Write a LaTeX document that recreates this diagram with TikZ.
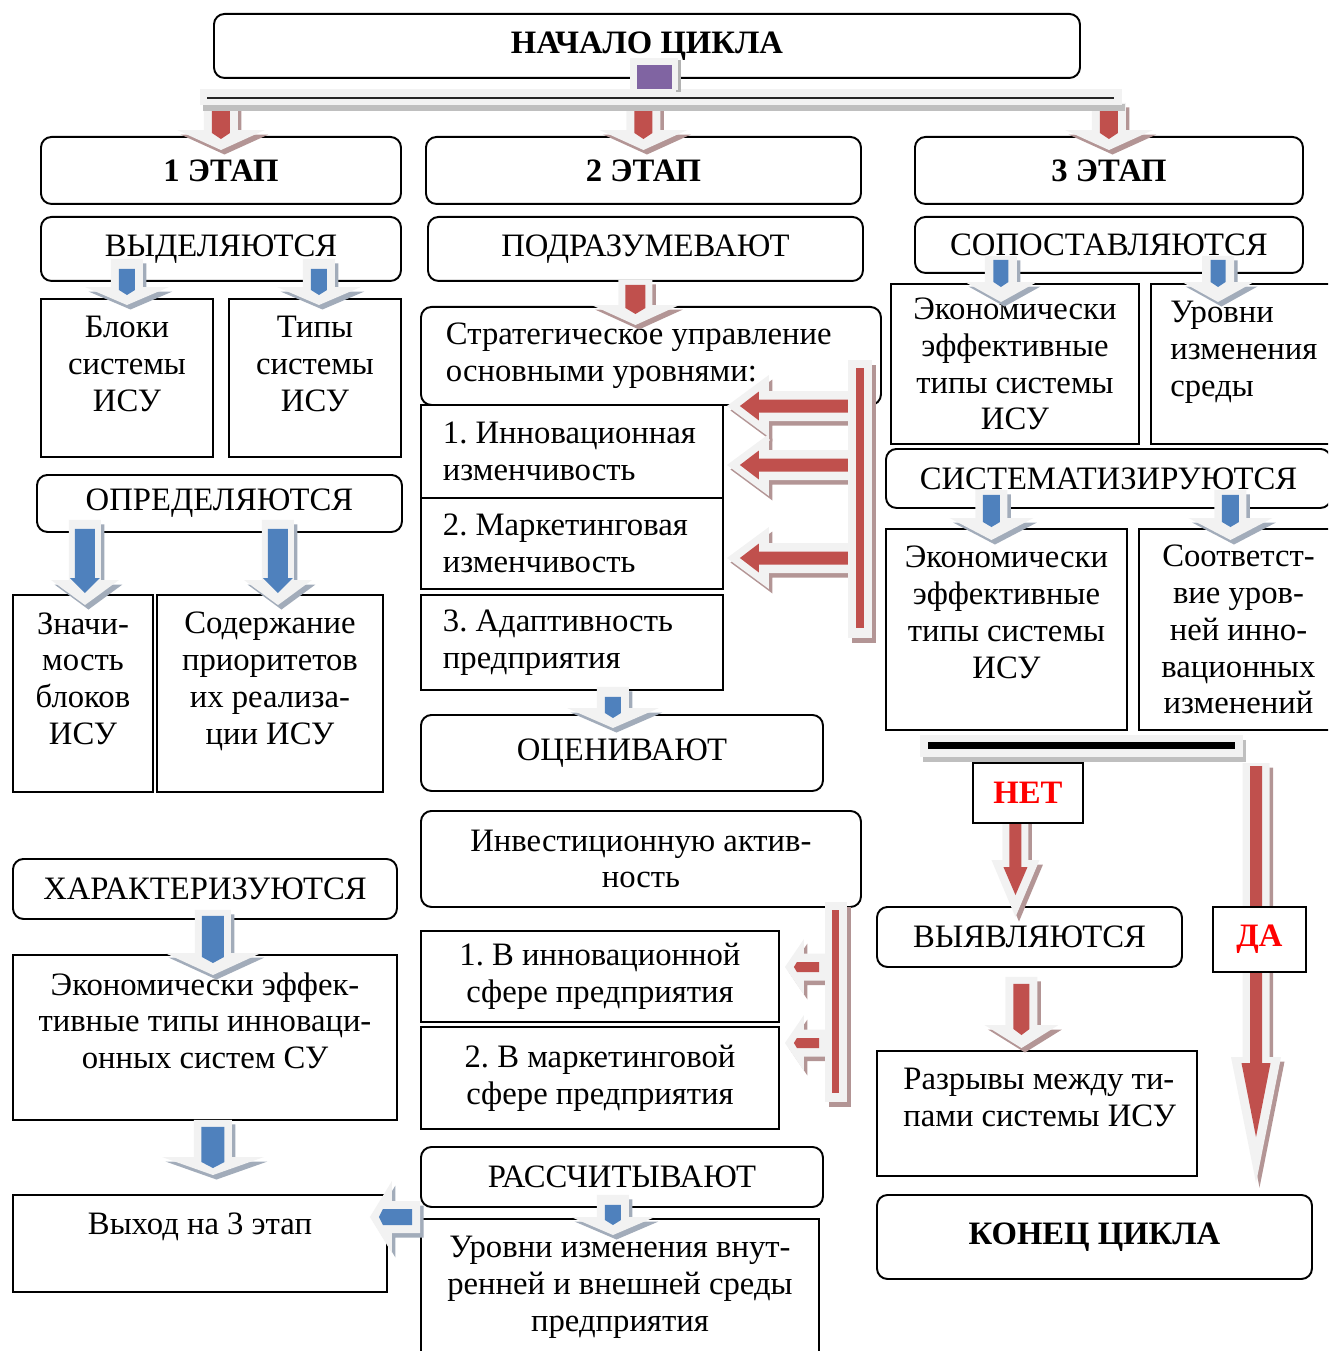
\documentclass[tikz,border=0pt]{standalone}
\usepackage{fontspec}
\setmainfont{Liberation Serif}
\usetikzlibrary{calc,positioning}
\definecolor{arrred}{HTML}{C0504D}
\definecolor{arrblue}{HTML}{4F81BD}
\definecolor{arrbg}{HTML}{F2F2F2}
\definecolor{redsh}{HTML}{B39595}
\definecolor{bluesh}{HTML}{A2ACBA}
\definecolor{purp}{HTML}{8064A2}
\frenchspacing
\tikzset{
	sz/.style 2 args={minimum width=#1*0.02cm,minimum height=#2*0.02cm},
	box/.style={draw,line width=1.1pt,inner sep=0pt,align=center,anchor=north west,fill=white},
	rbox/.style={box,rounded corners=6pt},
	lbox/.style={box,align=flush left,text width=#1*0.02cm},
	toplbl/.style={anchor=north,yshift=-18*0.02cm,align=center,inner sep=0pt}
}
\pgfkeys{/blk/.is family,/blk,
	sw/.initial=16,hw/.initial=42,hl/.initial=18,
	iw/.initial=8,ihw/.initial=8,ihl/.initial=5,
	it/.initial=10,gap/.initial=10,
	col/.initial=arrblue,sh/.initial=bluesh,
	red/.style={col=arrred,sh=redsh}}
\newcommand\blkouter[1]{\fill[fill=#1] (0,-\bsw) -- ({\blklen-\bhl},-\bsw) -- ({\blklen-\bhl},-\bhw) -- (\blklen,0)
	-- ({\blklen-\bhl},\bhw) -- ({\blklen-\bhl},\bsw) -- (0,\bsw) -- cycle;}
\newcommand\blkarrow[3][]{%
	\begingroup
	\pgfkeys{/blk,#1}%
	\edef\bsw{\pgfkeysvalueof{/blk/sw}}\edef\bhw{\pgfkeysvalueof{/blk/hw}}\edef\bhl{\pgfkeysvalueof{/blk/hl}}%
	\edef\biw{\pgfkeysvalueof{/blk/iw}}\edef\bihw{\pgfkeysvalueof{/blk/ihw}}\edef\bihl{\pgfkeysvalueof{/blk/ihl}}%
	\edef\bit{\pgfkeysvalueof{/blk/it}}\edef\bgap{\pgfkeysvalueof{/blk/gap}}%
	\edef\bcol{\pgfkeysvalueof{/blk/col}}\edef\bsh{\pgfkeysvalueof{/blk/sh}}%
	\path let \p1=#2, \p2=#3 in \pgfextra{%
		\pgfmathsetmacro\tmpl{veclen(\x2-\x1,\y2-\y1)/0.5690551}\xdef\blklen{\tmpl}%
		\pgfmathsetmacro\tmpa{atan2(\y2-\y1,\x2-\x1)}\xdef\blkang{\tmpa}};
	\begin{scope}[shift={#2},xshift=0.07cm,yshift=-0.09cm,rotate=\blkang]
		\blkouter{\bsh}
	\end{scope}
	\begin{scope}[shift={#2},rotate=\blkang]
		\blkouter{arrbg}
		\fill[fill=\bcol] (\bit,-\biw) -- ({\blklen-\bgap-\bihl},-\biw) -- ({\blklen-\bgap-\bihl},-\bihw)
			-- ({\blklen-\bgap},0) -- ({\blklen-\bgap-\bihl},\bihw) -- ({\blklen-\bgap-\bihl},\biw) -- (\bit,\biw) -- cycle;
	\end{scope}
	\endgroup}
\begin{document}
\begin{tikzpicture}[x=0.02cm,y=-0.02cm,font=\fontsize{18.6}{21}\selectfont]
\useasboundingbox (0,0) rectangle (1328,1351);
\clip (0,0) rectangle (1328,1351);

\node[rbox,sz={866}{64}] (start) at (213,13) {\textbf{НАЧАЛО ЦИКЛА}};
\node[rbox,sz={360}{67}] (et1) at (40,136) {\textbf{1 ЭТАП}};
\node[rbox,sz={435}{67}] (et2) at (425,136) {\textbf{2 ЭТАП}};
\node[rbox,sz={388}{67}] (et3) at (914,136) {\textbf{3 ЭТАП}};

% 1 stage
\node[rbox,sz={360}{64}] (vyd) at (40,216) {ВЫДЕЛЯЮТСЯ};
\node[box,sz={172}{158},label={[toplbl]north:Блоки\\системы\\ИСУ}] (blok) at (40,298) {};
\node[box,sz={172}{158},label={[toplbl]north:Типы\\системы\\ИСУ}] (tipy) at (228,298) {};
\node[rbox,sz={365}{57}] (opr) at (36,474) {ОПРЕДЕЛЯЮТСЯ};
\node[box,sz={140}{197},label={[toplbl]north:Значи-\\мость\\блоков\\ИСУ}] (znach) at (12,594) {};
\node[box,sz={226}{197},label={[toplbl]north:Содержание\\приоритетов\\их реализа-\\ции ИСУ}] (soder) at (156,594) {};
\node[rbox,sz={384}{60}] (har) at (12,858) {ХАРАКТЕРИЗУЮТСЯ};
\node[box,sz={384}{165},label={[toplbl]north:Экономически эффек-\\тивные типы инноваци-\\онных систем СУ}] (ekinn) at (12,954) {};
\node[box,sz={374}{97},label={[toplbl]north:Выход на 3 этап}] (vyhod) at (12,1194) {};

% 2 stage
\node[rbox,sz={435}{64}] (podr) at (427,216) {ПОДРАЗУМЕВАЮТ};
\node[lbox=410,rounded corners=6pt,sz={460}{98}] (strat) at (420,306) {Стратегическое управление\\основными уровнями:};
\node[lbox=258,sz={302}{93}] (inn1) at (420,404) {1. Инновационная\\изменчивость};
\node[lbox=258,sz={302}{91}] (inn2) at (420,497) {2. Маркетинговая\\изменчивость};
\node[lbox=258,sz={302}{95}] (inn3) at (420,594) {3. Адаптивность\\предприятия};
\node[rbox,sz={402}{76}] (ocen) at (420,714) {ОЦЕНИВАЮТ};
\node[rbox,sz={440}{96}] (invest) at (420,810) {Инвестиционную актив-\\ность};
\node[box,sz={358}{91}] (vin1) at (420,930) {1. В инновационной\\сфере предприятия};
\node[box,sz={358}{102}] (vin2) at (420,1026) {2. В маркетинговой\\сфере предприятия};
\node[rbox,sz={402}{60}] (rassch) at (420,1146) {РАССЧИТЫВАЮТ};
\node[box,sz={398}{160},label={[toplbl]north:Уровни изменения внут-\\ренней и внешней среды\\предприятия}] (urvn) at (420,1218) {};

% 3 stage
\node[rbox,sz={388}{56}] (sopost) at (914,216) {СОПОСТАВЛЯЮТСЯ};
\node[box,sz={248}{160}] (ek1) at (890,283) {Экономически\\эффективные\\типы системы\\ИСУ};
\node[box,sz={190}{160},label={[toplbl,anchor=north west,align=left,xshift=20*0.02cm]north west:Уровни\\изменения\\среды}] (urs) at (1150,283) {};
\node[rbox,sz={445}{59}] (sist) at (885,448) {СИСТЕМАТИЗИРУЮТСЯ};
\node[box,sz={241}{201},label={[toplbl]north:Экономически\\эффективные\\типы системы\\ИСУ}] (ek2) at (885,528) {};
\node[box,sz={199}{201}] (sootv) at (1138,528) {Соответст-\\вие уров-\\ней инно-\\вационных\\изменений};
\node[rbox,sz={305}{60}] (vyyav) at (876,906) {ВЫЯВЛЯЮТСЯ};
\node[box,sz={320}{125},label={[toplbl,anchor=north west,align=left,xshift=27*0.02cm]north west:Разрывы между ти-\\пами системы ИСУ}] (razr) at (876,1050) {};
\node[rbox,sz={435}{84}] (konec) at (876,1194) {\textbf{КОНЕЦ ЦИКЛА}};

\coordinate (bar) at (661,97);
\coordinate (sbar) at (848,360);
\coordinate (ibar) at (825,902);
\coordinate (nbar) at (1081,746);

% arrows
\foreach \e in {et1,et2,et3}
	{\blkarrow[red,sw=17,hw=44,hl=20,iw=9,ihw=9,ihl=6,it=4,gap=11]{($(\e.north |- bar)+(0,6)$)}{($(\e.north)+(0,14)$)}}
\blkarrow{($(blok.north |- vyd.south)+(0,-23)$)}{($(blok.north)+(0,7)$)}
\blkarrow{($(tipy.north |- vyd.south)+(4,-23)$)}{($(tipy.north)+(4,7)$)}
\blkarrow[sw=16,hw=34,hl=25,iw=10,ihw=15,ihl=15,it=9,gap=12]{($(znach.north |- opr.south)+(2,-13)$)}{($(znach.north)+(2,11)$)}
\blkarrow[sw=16,hw=34,hl=25,iw=10,ihw=15,ihl=15,it=9,gap=12]{($(soder.north |- opr.south)+(8,-13)$)}{($(soder.north)+(8,11)$)}
\blkarrow[sw=18,hw=48,hl=22,iw=11,ihw=11,ihl=6,it=6,gap=12]{($(ekinn.north |- har.south)+(8,-10)$)}{($(ekinn.north)+(8,21)$)}
\blkarrow[sw=19,hw=51,hl=18,iw=11.5,ihw=11.5,ihl=6,it=7,gap=7]{($(ekinn.south)+(8,-1)$)}{($(vyhod.north -| ekinn.south)+(8,-19)$)}
\blkarrow[sw=16,hw=36,hl=22,iw=8,ihw=8,ihl=4,it=8,gap=9]{($(urvn.north west)+(0,-1)$)}{($(vyhod.east |- urvn.north)+(-18,-1)$)}
\blkarrow[red,sw=17,hw=44,hl=20,iw=10,ihw=10,ihl=6,it=5,gap=11]{($(podr.south)+(-10,-2)$)}{($(strat.north -| podr.south)+(-10,19)$)}
\blkarrow[hw=46,hl=20]{($(ocen.north |- inn3.south)+(-9,-4)$)}{($(ocen.north)+(-9,14)$)}
\blkarrow{($(rassch.south)+(-9,-13)$)}{($(urvn.north -| rassch.south)+(-9,17)$)}
\blkarrow[red,sw=15,hw=31,hl=42,iw=6.5,ihw=14.5,ihl=19,it=0,gap=13]{($(inn1.north -| sbar)+(0,2)$)}{($(inn1.north east)+(3,2)$)}
\blkarrow[red,sw=15,hw=31,hl=42,iw=6.5,ihw=14.5,ihl=19,it=0,gap=13]{($(inn1.north -| sbar)+(0,61)$)}{($(inn1.north east)+(3,61)$)}
\blkarrow[red,sw=15,hw=31,hl=42,iw=6.5,ihw=14.5,ihl=19,it=0,gap=13]{($(inn2.north -| sbar)+(0,61)$)}{($(inn2.north east)+(3,61)$)}
\blkarrow[red,sw=13.5,hw=28,hl=19,iw=5,ihw=5,ihl=3,it=6,gap=9]{($(vin1.north -| ibar)+(0,37)$)}{($(vin1.north east)+(5,37)$)}
\blkarrow[red,sw=13.5,hw=28,hl=19,iw=5,ihw=5,ihl=3,it=6,gap=9]{($(vin2.north -| ibar)+(0,17)$)}{($(vin2.north east)+(5,17)$)}
\blkarrow[hw=36,hl=20,iw=7.5,ihw=7.5,it=4,gap=15]{($(ek1.north |- sopost.south)+(-14,-18)$)}{($(ek1.north)+(-14,19)$)}
\blkarrow[hw=36,hl=20,iw=7.5,ihw=7.5,it=4,gap=15]{($(urs.north west |- sopost.south)+(68,-18)$)}{($(urs.north west)+(68,19)$)}
\blkarrow[hw=42,hl=22,iw=8.5,ihw=8.5,it=5,gap=13]{($(ek2.north |- sist.south)+(-15,-19)$)}{($(ek2.north)+(-15,12)$)}
\blkarrow[hw=42,hl=22,iw=8.5,ihw=8.5,it=5,gap=13]{($(sootv.north |- sist.south)+(-8,-19)$)}{($(sootv.north)+(-8,12)$)}
\blkarrow[red,sw=13,hw=24,hl=57,iw=6,ihw=12,ihl=28,it=5,gap=22]{($(vyyav.north |- nbar)+(-14,12)$)}{($(vyyav.north)+(-14,11)$)}
\blkarrow[red,sw=16,hw=37,hl=23,iw=8,ihw=8,ihl=6,it=7,gap=13]{($(vyyav.south)+(-8,9)$)}{($(razr.north -| vyyav.south)+(-8,-2)$)}
\blkarrow[red,sw=13.5,hw=25,hl=126,iw=6,ihw=14.5,ihl=74,it=3,gap=46]{($(konec.north -| 1258,0)+(-2,-431)$)}{($(konec.north -| 1258,0)+(-2,-11)$)}

% bars
\fill[black!25] (203,104) rectangle (1125,111);
\fill[arrbg] (200,89) rectangle (1122,105);
\draw[line width=0.9pt,black!85] (207,98) -- (1114,98);
\fill[black!30] (676,60) rectangle (681,92);
\fill[arrbg] (630,58) rectangle (678,90);
\fill[purp] (637,65) rectangle (672,89);
\fill[redsh] ($(sbar)+(4,5)$) rectangle ++(24,278);
\fill[arrbg] (sbar) rectangle ++(24,278);
\fill[arrred] ($(sbar)+(8,8)$) rectangle ++(8,260);
\fill[redsh] ($(ibar)+(4,5)$) rectangle ++(22,200);
\fill[arrbg] (ibar) rectangle ++(22,200);
\fill[arrred] ($(ibar)+(7,8)$) rectangle ++(7,183);
\fill[black!25] (923,740) rectangle (1246,762);
\fill[arrbg] (920,735) rectangle (1243,757);
\fill[black] (928,742) rectangle (1235,749);

\node[box,sz={110}{60}] (net) at (972,762) {\textcolor{red}{\textbf{НЕТ}}};
\node[box,sz={93}{65}] (da) at (1212,906) {\textcolor{red}{\textbf{ДА}}};
\end{tikzpicture}
\end{document}
